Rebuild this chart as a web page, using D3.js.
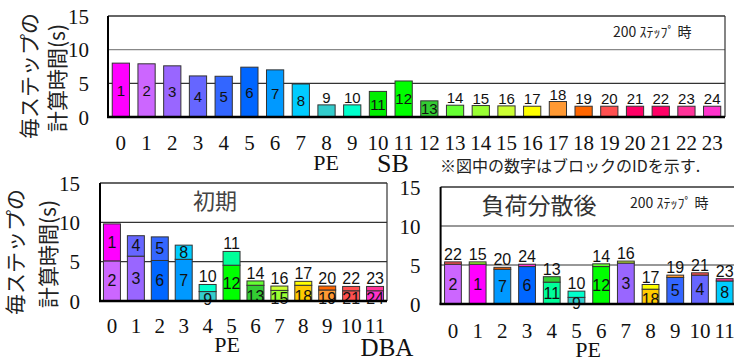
<!DOCTYPE html>
<html>
<head>
<meta charset="utf-8">
<script src="https://d3js.org/d3.v7.min.js"></script>
<style>
  body { margin: 0; background: #fff; }
  svg { display: block; }
  .serif { font-family: "Liberation Serif", "Times New Roman", serif; fill: #111; }
  .jp { font-family: "Noto Sans CJK JP", sans-serif; fill: #222; }
  .lbl { font-family: "Liberation Sans", Arial, sans-serif; fill: #111; }
</style>
</head>
<body>
<div id="chart"></div>
<script>
// ---- SB, 200 steps (one block per PE) ----
const sbPEs = ["0","1","2","3","4","5","6","7","8","9","10","11","12","13","14","15","16","17","18","19","20","21","22","23"];
const sbBlocks = [1,2,3,4,5,6,7,8,9,10,11,12,13,14,15,16,17,18,19,20,21,22,23,24];
const sbTimes = [8.0,7.9,7.6,6.1,6.05,7.4,7.0,4.9,1.8,1.8,3.8,5.35,2.4,1.75,1.7,1.65,1.6,2.3,1.6,1.6,1.6,1.6,1.6,1.6];
const sbLabelAbove = [9,10,14,15,16,17,18,19,20,21,22,23,24];

// ---- DBA, initial (two blocks per PE) ----
const dbaPEs = ["0","1","2","3","4","5","6","7","8","9","10","11"];
const dbaLowerBlocks = [2,3,6,7,9,12,13,15,18,19,21,24];
const dbaLowerTimes = [5.1,5.7,5.15,5.3,1.2,4.55,2.0,1.35,2.0,1.4,1.3,1.3];
const dbaUpperBlocks = [1,4,5,8,10,11,14,16,17,20,22,23];
const dbaUpperTimes = [4.7,2.6,3.0,1.8,0.9,1.75,0.55,0.55,0.5,0.5,0.55,0.55];
const dbaUpperInside = [1,4,5,8];

// ---- DBA, after load balancing, 200 steps ----
const lbPEs = ["0","1","2","3","4","5","6","7","8","9","10","11"];
const lbLowerBlocks = [2,1,7,6,11,9,12,3,18,5,4,8];
const lbLowerTimes = [5.1,5.1,4.45,4.8,2.8,0.85,4.8,5.25,1.9,3.4,3.7,2.95];
const lbUpperBlocks = [22,15,20,24,13,10,14,16,17,19,21,23];
const lbUpperTimes = [0.3,0.3,0.25,0.3,0.7,0.8,0.35,0.25,0.6,0.3,0.3,0.3];

const yTicks = [0,5,10,15];

// block colours (index = block id - 1)
const sbColors = ["#ff00ff","#cc66ff","#9966ff","#6666ff","#3366ff","#0066ff","#0099ff","#00ccff",
  "#33cccc","#00ffcc","#00ee00","#00ff00","#33cc33","#66ff33","#99ff33","#ccff33",
  "#ffff00","#ff9933","#ff6600","#ff5050","#ff0066","#ff0066","#ff3399","#ff33cc"];
const dbaColors = ["#ff00ff","#cc66ff","#9966ff","#6666ff","#3366ff","#0066ff","#0099ff","#00ccff",
  "#33cccc","#00ffcc","#00ff99","#00ff00","#33cc33","#66ff33","#99ff33","#ccff33",
  "#ffff00","#ffcc00","#ff9933","#ff6600","#ff5050","#ff5050","#ff3399","#ff33cc"];

const W = 734, H = 361;
const svg = d3.select("#chart").append("svg").attr("width", W).attr("height", H);

function yTitle(cx1, cx2, cy) {
  svg.append("text").attr("class", "jp")
    .attr("transform", `translate(${cx1},${cy}) rotate(-90)`)
    .attr("text-anchor", "middle").attr("dominant-baseline", "central")
    .style("font-size", "21px").text("毎ステップの");
  svg.append("text").attr("class", "jp")
    .attr("transform", `translate(${cx2},${cy + 2}) rotate(-90)`)
    .attr("text-anchor", "middle").attr("dominant-baseline", "central")
    .style("font-size", "21px").text("計算時間(s)");
}

function frame(o) {
  const g = svg.append("g");
  const x = d3.scaleBand().domain(o.pes).range([o.left, o.right])
    .paddingInner(o.pad).paddingOuter(o.pad / 2);
  const y = d3.scaleLinear().domain([0, 15]).range([o.bottom, o.top]);

  g.selectAll("line.grid").data([5, 10]).join("line")
    .attr("x1", o.left).attr("x2", o.right)
    .attr("y1", d => y(d)).attr("y2", d => y(d))
    .attr("stroke", d => d === 10 ? o.grid10 : "#333").attr("stroke-width", 1.2);

  // frame
  g.append("line").attr("x1", o.left).attr("x2", o.right).attr("y1", y(15)).attr("y2", y(15))
    .attr("stroke", "#333").attr("stroke-width", 1.5);
  g.append("line").attr("x1", o.right).attr("x2", o.right).attr("y1", y(15)).attr("y2", y(0))
    .attr("stroke", "#333").attr("stroke-width", 1.2);

  const ya = g.append("g").attr("transform", `translate(${o.left},0)`)
    .call(d3.axisLeft(y).tickValues(yTicks).tickSize(0).tickPadding(o.yPad));
  ya.select(".domain").remove();
  ya.selectAll("text").attr("class", "serif").style("font-size", "21px").attr("dy", "0.34em");

  const xa = g.append("g").attr("transform", `translate(0,${o.bottom})`)
    .call(d3.axisBottom(x).tickSize(0).tickPadding(o.xPad));
  xa.select(".domain").remove();
  xa.selectAll("text").attr("class", "serif").style("font-size", "21px");

  return { g, x, y };
}

function finishAxes(p, o) {
  p.g.append("line").attr("x1", o.left).attr("x2", o.left).attr("y1", p.y(15)).attr("y2", p.y(0) + 1)
    .attr("stroke", "#000").attr("stroke-width", 2);
  p.g.append("line").attr("x1", o.left - 1).attr("x2", o.right).attr("y1", p.y(0)).attr("y2", p.y(0))
    .attr("stroke", "#000").attr("stroke-width", 2.5);
}

// ================= top panel =================
const sbOpt = { pes: sbPEs, left: 108, right: 725, top: 16, bottom: 117, pad: 0.33,
  yPad: 19, xPad: 18, grid10: "#888" };
const sb = frame(sbOpt);
const sbData = sbPEs.map((pe, i) => ({ pe, block: sbBlocks[i], t: sbTimes[i] }));

sb.g.selectAll("rect.bar").data(sbData).join("rect")
  .attr("x", d => sb.x(d.pe)).attr("width", sb.x.bandwidth())
  .attr("y", d => sb.y(d.t)).attr("height", d => sb.y(0) - sb.y(d.t))
  .attr("fill", d => sbColors[d.block - 1]).attr("stroke", "#333").attr("stroke-width", 1);

sb.g.selectAll("text.val").data(sbData).join("text").attr("class", "lbl")
  .attr("x", d => sb.x(d.pe) + sb.x.bandwidth() / 2)
  .attr("y", d => sbLabelAbove.includes(d.block) ? sb.y(d.t) - 2 : (sb.y(d.t) + sb.y(0)) / 2)
  .attr("dominant-baseline", d => sbLabelAbove.includes(d.block) ? "auto" : "central")
  .attr("text-anchor", "middle").style("font-size", "15px").text(d => d.block);
finishAxes(sb, sbOpt);

svg.append("text").attr("class", "jp").attr("x", 613).attr("y", 37)
  .style("font-size", "14px").text("200 ｽﾃｯﾌﾟ 時");
svg.append("text").attr("class", "serif").attr("x", 326).attr("y", 170)
  .attr("text-anchor", "middle").style("font-size", "22px").text("PE");
svg.append("text").attr("class", "serif").attr("x", 393).attr("y", 172)
  .attr("text-anchor", "middle").style("font-size", "26px").text("SB");
svg.append("text").attr("class", "jp").attr("x", 440).attr("y", 172)
  .style("font-size", "16px").text("※図中の数字はブロックのIDを示す.");
yTitle(28, 56, 76);

// ================= stacked panels =================
function stacked(o, lowerB, lowerT, upperB, upperT, inside) {
  const p = frame(o);
  const data = o.pes.map((pe, i) => ({ pe, lb: lowerB[i], lt: lowerT[i], ub: upperB[i], ut: upperT[i] }));
  const bw = p.x.bandwidth();
  const bars = p.g.selectAll("g.bar").data(data).join("g").attr("transform", d => `translate(${p.x(d.pe)},0)`);
  bars.append("rect")
    .attr("width", bw).attr("y", d => p.y(d.lt)).attr("height", d => p.y(0) - p.y(d.lt))
    .attr("fill", d => dbaColors[d.lb - 1]).attr("stroke", "#333").attr("stroke-width", 1);
  bars.append("rect")
    .attr("width", bw).attr("y", d => p.y(d.lt + d.ut)).attr("height", d => p.y(d.lt) - p.y(d.lt + d.ut))
    .attr("fill", d => dbaColors[d.ub - 1]).attr("stroke", "#333").attr("stroke-width", 1);
  bars.append("text").attr("class", "lbl").attr("x", bw / 2)
    .attr("y", d => (p.y(d.lt) + p.y(0)) / 2 + (d.lt < 2.5 ? 3 : 0))
    .attr("dominant-baseline", "central").attr("text-anchor", "middle")
    .style("font-size", "16px").text(d => d.lb);
  bars.append("text").attr("class", "lbl").attr("x", bw / 2)
    .attr("y", d => inside.includes(d.ub) ? (p.y(d.lt) + p.y(d.lt + d.ut)) / 2 : p.y(d.lt + d.ut) - 2)
    .attr("dominant-baseline", d => inside.includes(d.ub) ? "central" : "auto")
    .attr("text-anchor", "middle").style("font-size", "16px").text(d => d.ub);
  finishAxes(p, o);
  return p;
}

const dbaOpt = { pes: dbaPEs, left: 100, right: 387, top: 183, bottom: 301, pad: 0.29,
  yPad: 20, xPad: 17, grid10: "#333" };
stacked(dbaOpt, dbaLowerBlocks, dbaLowerTimes, dbaUpperBlocks, dbaUpperTimes, dbaUpperInside);
svg.append("text").attr("class", "jp").attr("x", 215).attr("y", 199)
  .attr("text-anchor", "middle").attr("dominant-baseline", "central")
  .style("font-size", "22px").style("fill", "#444").text("初期");
svg.append("text").attr("class", "serif").attr("x", 227).attr("y", 352)
  .attr("text-anchor", "middle").style("font-size", "22px").text("PE");
svg.append("text").attr("class", "serif").attr("x", 387).attr("y", 356)
  .attr("text-anchor", "middle").style("font-size", "25px").text("DBA");
yTitle(14, 47, 252);

const lbOpt = { pes: lbPEs, left: 440.6, right: 737, top: 187, bottom: 304, pad: 0.32,
  yPad: 20, xPad: 19, grid10: "#333" };
stacked(lbOpt, lbLowerBlocks, lbLowerTimes, lbUpperBlocks, lbUpperTimes, []);
svg.append("text").attr("class", "jp").attr("x", 539).attr("y", 204)
  .attr("text-anchor", "middle").attr("dominant-baseline", "central")
  .style("font-size", "23px").style("fill", "#333").text("負荷分散後");
svg.append("text").attr("class", "jp").attr("x", 630).attr("y", 208)
  .style("font-size", "14px").text("200 ｽﾃｯﾌﾟ 時");
svg.append("text").attr("class", "serif").attr("x", 588).attr("y", 357)
  .attr("text-anchor", "middle").style("font-size", "22px").text("PE");
</script>
</body>
</html>
